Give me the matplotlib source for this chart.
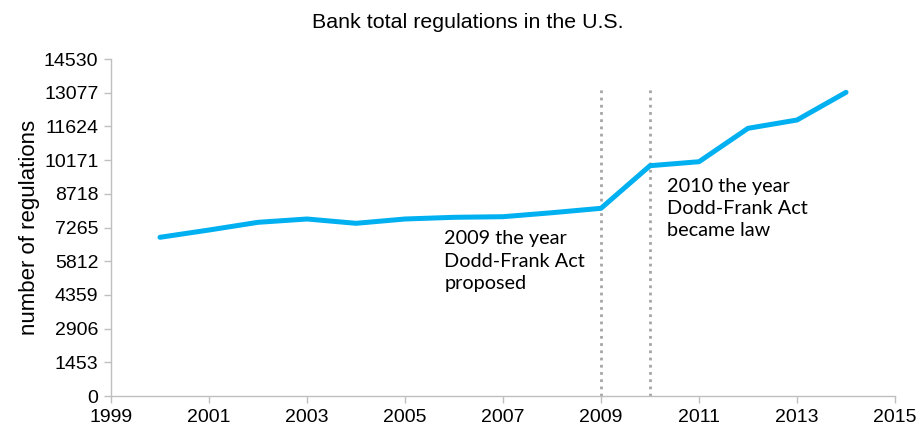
import matplotlib
matplotlib.use('Agg')
import matplotlib.pyplot as plt

years = [2000, 2001, 2002, 2003, 2004, 2005, 2006, 2007,
         2008, 2009, 2010, 2011, 2012, 2013, 2014]
regulations = [6843, 7157, 7489, 7632, 7446, 7632, 7705, 7731,
               7903, 8093, 9930, 10102, 11542, 11900, 13094]
y_ticks = [0, 1453, 2906, 4359, 5812, 7265, 8718, 10171, 11624, 13077, 14530]
x_ticks = list(range(1999, 2016, 2))
event_years = [2009, 2010]
event_notes = ["2009 the year\nDodd-Frank Act\nproposed",
               "2010 the year\nDodd-Frank Act\nbecame law"]

AXIS_GREY = '#bfbfbf'

fig = plt.figure(figsize=(9.21, 4.32), dpi=100)
ax = fig.add_axes([0.1205, 0.0833, 0.8513, 0.7801])

# vertical markers for the Dodd-Frank milestones
for yr in event_years:
    ax.plot([yr, yr], [0, 13370], color='#a6a6a6', linestyle=(0, (1, 1.6)),
            linewidth=2, zorder=1)

ax.plot(years, regulations, color='#00b0f0', linewidth=3.6,
        solid_capstyle='round', solid_joinstyle='round', zorder=2)

note_font = ['Lato', 'DejaVu Sans']
ax.text(2005.8, 7150, event_notes[0], fontsize=14.3, family=note_font,
        va='top', ha='left', linespacing=1.38)
ax.text(2010.35, 9420, event_notes[1], fontsize=14.3, family=note_font,
        va='top', ha='left', linespacing=1.38)

ax.set_xlim(1999, 2015)
ax.set_ylim(0, 14530)
ax.set_xticks(x_ticks)
ax.set_yticks(y_ticks)
ax.set_xticklabels([str(t) for t in x_ticks], family='Liberation Sans', fontsize=14)
ax.set_yticklabels([str(t) for t in y_ticks], family='Liberation Sans', fontsize=14)

for side in ('top', 'right'):
    ax.spines[side].set_visible(False)
for side in ('left', 'bottom'):
    ax.spines[side].set_color(AXIS_GREY)
    ax.spines[side].set_linewidth(1)
ax.tick_params(axis='both', direction='out', length=5, width=1,
               color=AXIS_GREY, pad=4)

ax.set_ylabel('number of regulations', family='Liberation Sans', fontsize=16, labelpad=3)
fig.text(468 / 921, 1 - 23 / 432, 'Bank total regulations in the U.S.',
         family='Liberation Sans', fontsize=15.4, ha='center', va='center')

plt.savefig('out.png', dpi=100)
plt.close(fig)
